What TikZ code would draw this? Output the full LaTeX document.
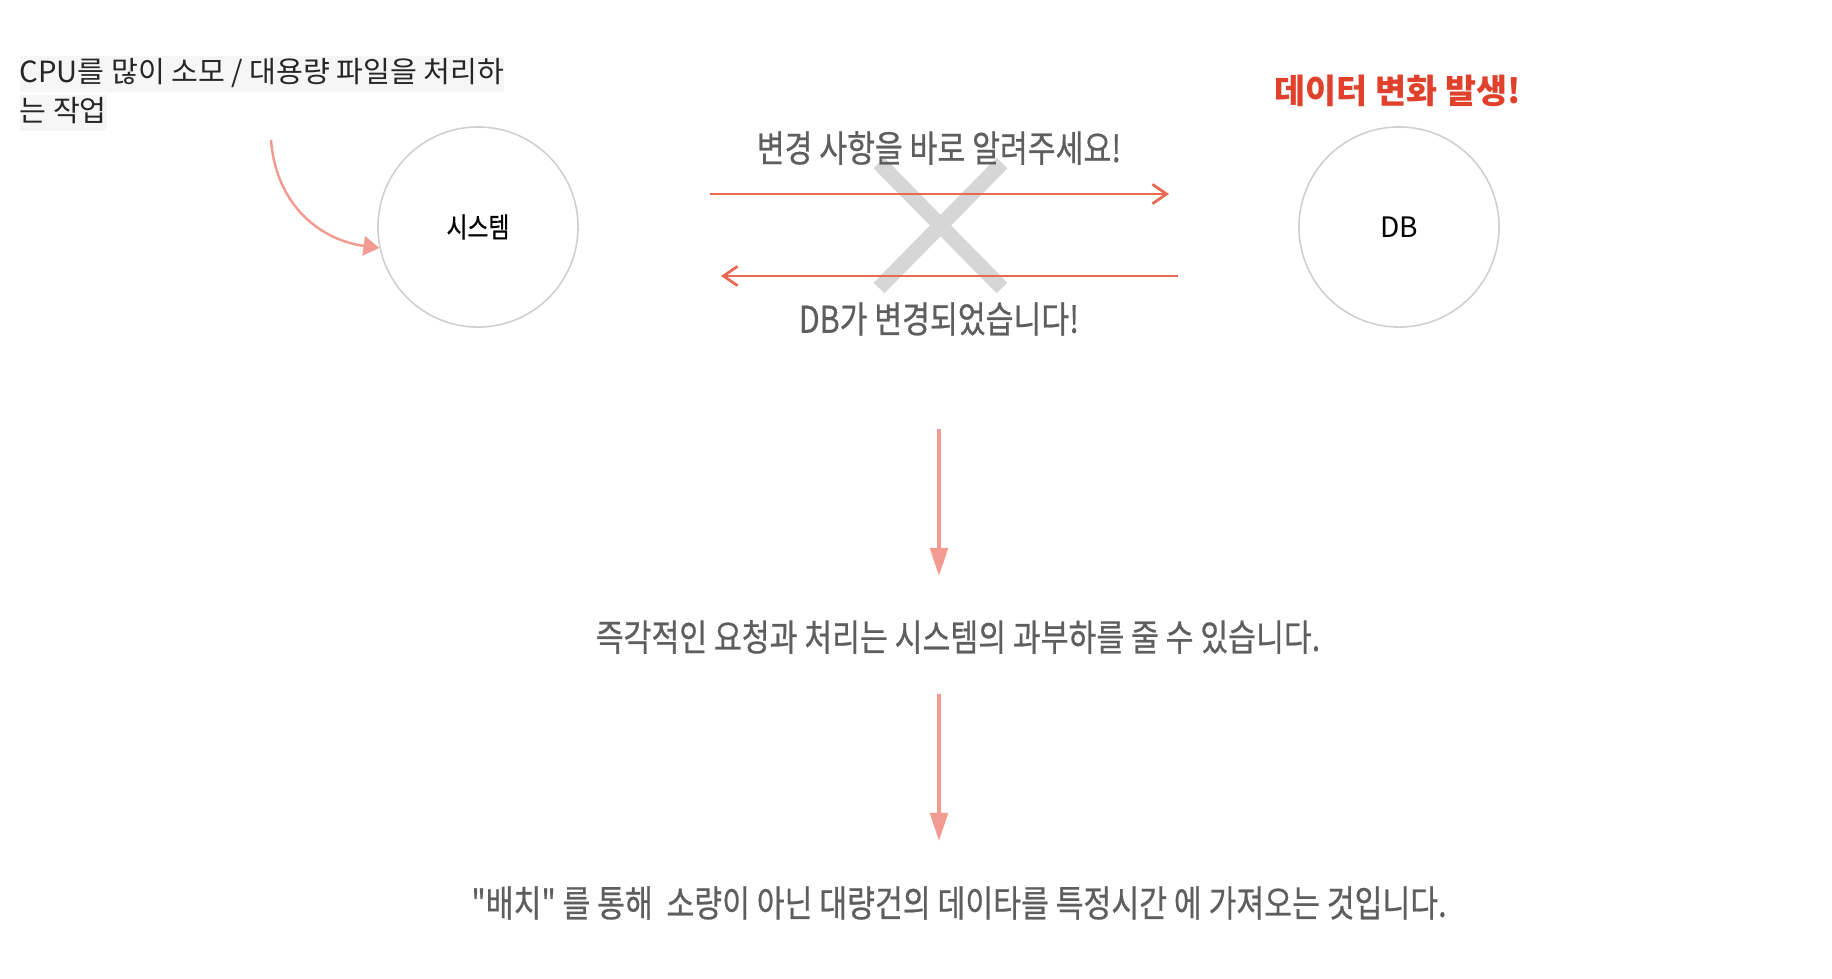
\documentclass[tikz,border=0pt]{standalone}
\usepackage{fontspec}
\setmainfont{Noto Sans CJK KR}
\newfontfamily\krnarrow[FakeStretch=0.82, FakeBold=0.6]{Noto Sans CJK KR}
\usetikzlibrary{arrows.meta, positioning, calc}
\definecolor{coral}{HTML}{E96A52}
\definecolor{salmon}{HTML}{F29B90}
\definecolor{alertred}{HTML}{E0412C}
\definecolor{msggrey}{HTML}{5E5E5E}
\definecolor{ringgrey}{HTML}{CFCFCF}
\definecolor{crossgrey}{HTML}{D6D6D6}
\definecolor{hlgrey}{HTML}{F6F6F6}

\begin{document}
\begin{tikzpicture}[x=0.01cm, y=0.01cm,
    ring/.style={circle, draw=ringgrey, line width=0.45pt, minimum size=2cm, inner sep=0pt},
    hilite/.style={fill=hlgrey, inner sep=0pt, text height=7.6pt, text depth=2.6pt, text=black!85, font=\fontsize{8.3}{9}\selectfont},
    msg/.style={text=msggrey, font=\krnarrow\fontsize{10.5}{12}\selectfont},
    note/.style={text=msggrey, font=\krnarrow\fontsize{10.5}{12}\selectfont},
    syncarrow/.style={coral, line width=0.8pt, -{Straight Barb[length=4pt, width=5.5pt]}},
    flow/.style={salmon, line width=1.1pt, -{Triangle[length=8pt, width=5pt]}}]
        \useasboundingbox (0,0) rectangle (1832,-978);
        % Heavy job note
        \node[hilite, anchor=north west] (job1) at (19,-55) {CPU를 많이 소모 / 대용량 파일을 처리하};
        \node[hilite, anchor=north west] (job2) at ([yshift=-0.6pt]job1.south west) {는 작업};
        % System and DB
        \node[ring, font=\krnarrow\fontsize{7.9}{9}\selectfont] (sys) at (478,-227) {시스템};
        \node[ring, font=\fontsize{8}{9}\selectfont] (db) at (1399,-227) {DB};
        \node[text=alertred, font=\bfseries\fontsize{9.6}{11}\selectfont] (alert) at (1398,-91) {데이터 변화 발생!};
        \coordinate (jobtip) at (271,-140);
        \draw[salmon, line width=0.7pt, -{Triangle[length=4.5pt, width=5.5pt]}] (jobtip) .. controls (276,-205) and (320,-240) .. (sys.192);
        % Crossed out sync
        \draw[crossgrey, line width=4.3pt] (879,-163) -- (1002,-288);
        \draw[crossgrey, line width=4.3pt] (1002,-163) -- (879,-288);
        \coordinate (reqstart) at (710,-194);
        \coordinate (reqend) at (1169,-194);
        \coordinate (ackstart) at (1178,-276);
        \coordinate (ackend) at (721,-276);
        \draw[syncarrow] (reqstart) -- (reqend);
        \draw[syncarrow] (ackstart) -- (ackend);
        \node[msg] (req) at (939,-148) {변경 사항을 바로 알려주세요!};
        \node[msg] (ack) at (939,-319) {DB가 변경되었습니다!};
        % Conclusion
        \node[note] (load) at (958,-637) {즉각적인 요청과 처리는 시스템의 과부하를 줄 수 있습니다.};
        \node[note] (batch) at (959,-903) {"배치" 를 통해\ \ 소량이 아닌 대량건의 데이타를 특정시간 에 가져오는 것입니다.};
        \coordinate (flow1top) at (939,-429);
        \coordinate (flow1end) at (939,-576);
        \coordinate (flow2top) at (939,-694);
        \coordinate (flow2end) at (939,-841);
        \draw[flow] (flow1top) -- (flow1end);
        \draw[flow] (flow2top) -- (flow2end);
    \end{tikzpicture}
\end{document}
